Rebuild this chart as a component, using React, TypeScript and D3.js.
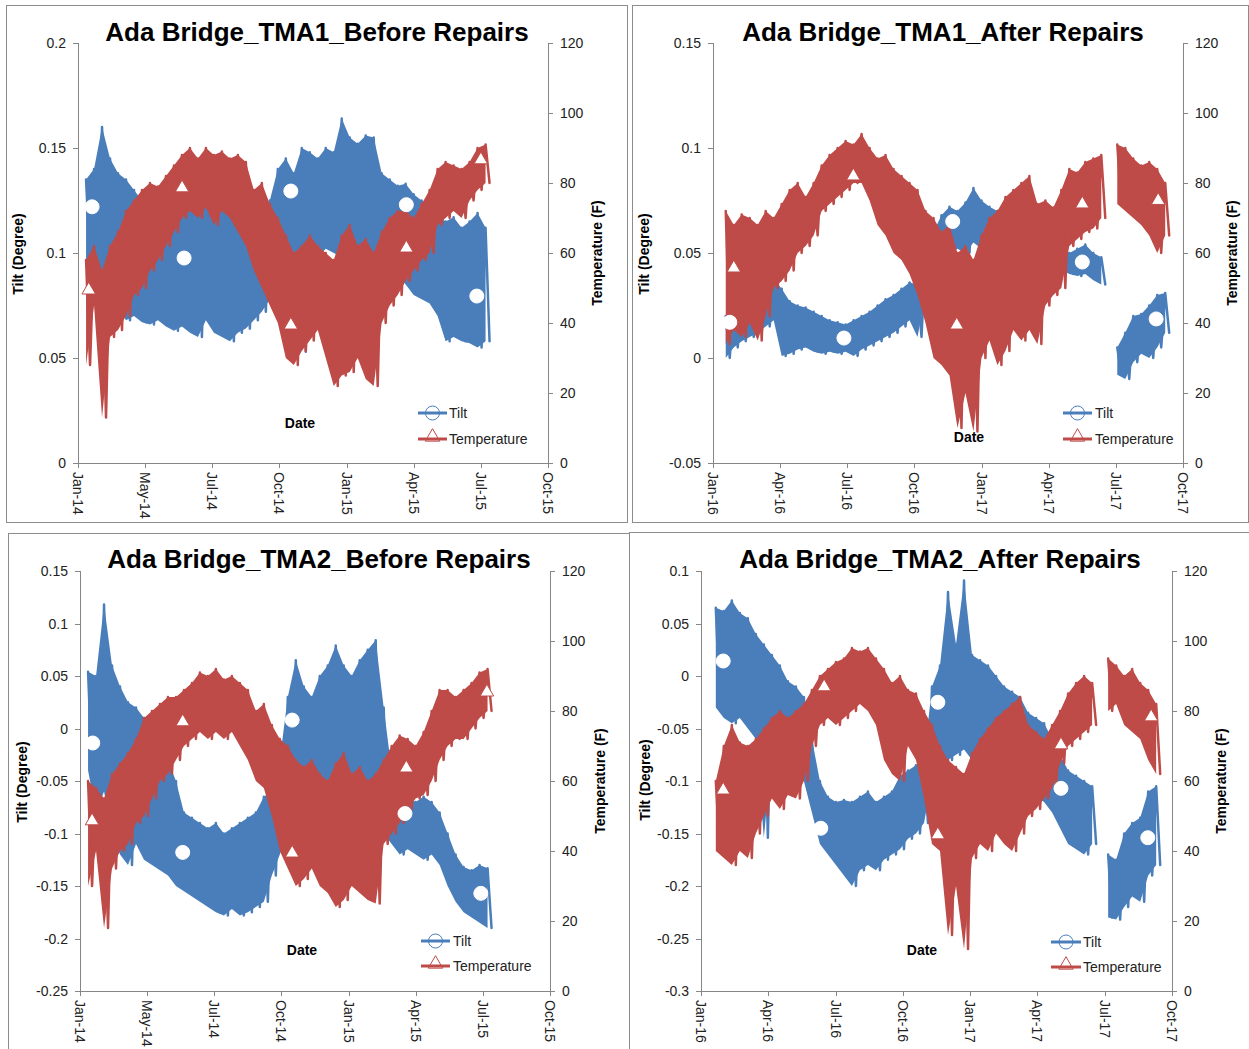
import React from 'react';
import * as d3 from 'd3';

// ---------- tick labels ----------
const xLabels2014 = ['Jan-14', 'May-14', 'Jul-14', 'Oct-14', 'Jan-15', 'Apr-15', 'Jul-15', 'Oct-15'];
const xLabels2016 = ['Jan-16', 'Apr-16', 'Jul-16', 'Oct-16', 'Jan-17', 'Apr-17', 'Jul-17', 'Oct-17'];
const tempTicks = [0, 20, 40, 60, 80, 100, 120];
const tma1BeforeTiltTicks = [0, 0.05, 0.1, 0.15, 0.2];
const tma1AfterTiltTicks = [-0.05, 0, 0.05, 0.1, 0.15];
const tma2BeforeTiltTicks = [-0.25, -0.2, -0.15, -0.1, -0.05, 0, 0.05, 0.1, 0.15];
const tma2AfterTiltTicks = [-0.3, -0.25, -0.2, -0.15, -0.1, -0.05, 0, 0.05, 0.1];

// ---------- series (x in quarter-index units 0..7, sampled every 0.119; high / low readings) ----------
const sampleStep = 0.119;

const tma1BeforeStart = 0.12;
const tma1BeforeTiltHi = [
  .135, .14, .16, .145, .138, .135, .13, .125, .12, .118,
  .122, .125, .12, .13, .128, .125, .13, .127, .122, .125,
  .12, .118, .12, .125, .14, .145, .138, .15, .148, .145,
  .15, .148, .164, .155, .152, .156, .155, .138, .135, .132,
  .133, .128, .125, .122, .118, .115, .117, .112, .115, .119,
  .112];
const tma1BeforeTiltLo = [
  .095, .1, .088, .08, .075, .068, .07, .067, .066, .068,
  .065, .063, .065, .062, .06, .068, .062, .06, .058, .062,
  .064, .068, .072, .078, .082, .095, .1, .053, .1, .098,
  .102, .1, .098, .1, .095, .1, .097, .095, .092, .09,
  .085, .08, .078, .076, .07, .058, .06, .058, .057, .055,
  .058];
const tma1BeforeTempHi = [
  58, 62, 55, 62, 66, 72, 75, 78, 80, 79,
  82, 85, 88, 90, 87, 90, 88, 89, 87, 88,
  86, 78, 80, 74, 70, 65, 60, 62, 65, 62,
  60, 58, 65, 68, 62, 64, 60, 66, 70, 72,
  72, 70, 74, 78, 84, 86, 85, 84, 86, 90,
  91];
const tma1BeforeTempLo = [
  28, 45, 13, 36, 38, 42, 48, 50, 55, 58,
  62, 66, 70, 72, 70, 73, 68, 72, 70, 66,
  62, 55, 50, 45, 40, 30, 28, 32, 35, 38,
  30, 22, 25, 26, 30, 24, 22, 40, 45, 48,
  52, 55, 58, 60, 68, 70, 72, 70, 75, 78,
  80];
const tma1BeforeTiltMarkT = [0.21, 1.58, 3.17, 4.89, 5.94];
const tma1BeforeTiltMarkV = [0.122, 0.0976, 0.1295, 0.123, 0.0795];
const tma1BeforeTempMarkT = [0.16, 1.55, 3.17, 4.89, 6.0];
const tma1BeforeTempMarkV = [49.4, 78.6, 39.4, 61.4, 86.6];

const tma1AfterStart = 0.19;
const tma1AfterTiltHi = [
  .02, .028, .03, .033, .035, .036, .038, .033, .027, .025,
  .024, .022, .02, .018, .017, .016, .018, .02, .022, .025,
  .028, .03, .033, .036, .035, .05, .06, .068, .072, .07,
  .074, .081, .075, .072, .07, .072, .07, .068, .066, .06,
  .055, .052, .053, .05, .052, .054, .05, .048, null, .005,
  .012, .02, .021, .025, .03, .031];
const tma1AfterTiltLo = [
  0, .005, .008, .01, .012, .015, .018, .001, .002, .004,
  .005, .003, .002, .003, .002, .003, .001, .004, .006, .008,
  .01, .012, .015, .018, .01, .03, .04, .045, .05, .052,
  .05, .055, .052, .05, .053, .05, .048, .05, .045, .04,
  .04, .04, .042, .04, .039, .04, .037, .035, null, -.008,
  -.01, -.002, .002, 0, .005, .012];
const tma1AfterTempHi = [
  72, 68, 71, 70, 68, 72, 70, 74, 78, 80,
  76, 80, 85, 88, 90, 92, 91, 94, 90, 87,
  88, 84, 82, 80, 78, 72, 70, 66, 68, 60,
  62, 58, 65, 70, 72, 76, 78, 80, 82, 74,
  75, 73, 78, 84, 83, 86, 87, 88, null, 91,
  90, 87, 85, 86, 84, 80];
const tma1AfterTempLo = [
  34, 38, 36, 40, 35, 42, 50, 52, 55, 60,
  62, 65, 72, 74, 76, 78, 80, 80, 75, 68,
  65, 60, 58, 54, 48, 40, 30, 28, 25, 10,
  20, 9, 30, 35, 28, 32, 38, 35, 38, 34,
  45, 48, 50, 62, 64, 66, 67, 70, null, 74,
  72, 70, 68, 65, 60, 65];
const tma1AfterTiltMarkT = [0.25, 1.95, 3.57, 5.5, 6.6];
const tma1AfterTiltMarkV = [0.017, 0.0095, 0.065, 0.0457, 0.0186];
const tma1AfterTempMarkT = [0.31, 2.09, 3.63, 5.5, 6.63];
const tma1AfterTempMarkV = [55.7, 82, 39.4, 74, 75];

const tma2BeforeStart = 0.12;
const tma2BeforeTiltHi = [
  .054, .05, .118, .06, .04, .025, .02, .01, -.005, -.02,
  -.03, -.05, -.08, -.085, -.09, -.095, -.09, -.1, -.095, -.09,
  -.085, -.08, -.065, -.06, -.03, .03, .065, .04, .03, .05,
  .06, .079, .06, .05, .065, .075, .084, .02, -.04, -.06,
  -.065, -.07, -.065, -.07, -.08, -.1, -.12, -.132, -.135, -.13,
  -.133];
const tma2BeforeTiltLo = [
  -.04, -.08, -.06, -.1, -.12, -.13, -.11, -.125, -.13, -.135,
  -.14, -.15, -.155, -.16, -.165, -.17, -.175, -.178, -.172, -.178,
  -.175, -.17, -.165, -.14, -.12, -.1, -.09, -.08, -.07, -.075,
  -.07, -.08, -.075, -.08, -.07, -.08, -.09, -.1, -.11, -.12,
  -.115, -.12, -.125, -.12, -.13, -.15, -.165, -.175, -.18, -.185,
  -.19];
const tma2BeforeTempHi = [
  60, 58, 55, 62, 65, 68, 72, 78, 80, 82,
  84, 84, 86, 88, 91, 90, 92, 89, 90, 88,
  86, 80, 82, 76, 72, 70, 66, 64, 66, 62,
  60, 65, 68, 62, 64, 60, 62, 66, 70, 73,
  72, 70, 74, 80, 86, 86, 84, 86, 88, 91,
  92];
const tma2BeforeTempLo = [
  30, 40, 18, 35, 40, 42, 48, 50, 55, 60,
  62, 66, 70, 72, 74, 72, 74, 72, 74, 70,
  66, 60, 58, 50, 40, 35, 30, 32, 35, 30,
  28, 24, 26, 30, 28, 26, 25, 42, 45, 48,
  52, 55, 56, 60, 66, 70, 72, 72, 75, 78,
  80];
const tma2BeforeTiltMarkT = [0.19, 1.53, 3.16, 4.84, 5.97];
const tma2BeforeTiltMarkV = [-0.0138, -0.118, 0.008, -0.081, -0.157];
const tma2BeforeTempMarkT = [0.18, 1.53, 3.16, 4.86, 6.06];
const tma2BeforeTempMarkV = [48.6, 76.9, 39.4, 63.7, 85.4];

const tma2AfterStart = 0.22;
const tma2AfterTiltHi = [
  .065, .062, .072, .06, .055, .04, .03, .02, .01, -.005,
  -.01, -.02, -.06, -.1, -.115, -.12, -.118, -.12, -.115, -.11,
  -.12, -.115, -.11, -.095, -.09, -.085, -.08, -.01, .01, .08,
  .03, .091, .02, .015, .01, 0, -.01, -.015, -.02, -.035,
  -.04, -.045, -.06, -.075, -.09, -.095, -.1, -.105, null, -.17,
  -.175, -.15, -.14, -.135, -.11, -.105];
const tma2AfterTiltLo = [
  -.03, -.04, -.045, -.04, -.05, -.06, -.154, -.075, -.08, -.085,
  -.095, -.1, -.13, -.16, -.17, -.18, -.19, -.2, -.185, -.18,
  -.185, -.175, -.17, -.165, -.155, -.15, -.14, -.1, -.09, -.08,
  -.075, -.07, -.08, -.085, -.09, -.1, -.095, -.1, -.105, -.11,
  -.115, -.12, -.13, -.145, -.16, -.165, -.17, -.16, null, -.23,
  -.232, -.22, -.21, -.215, -.19, -.18];
const tma2AfterTempHi = [
  60, 70, 76, 71, 70, 72, 75, 78, 80, 78,
  80, 82, 86, 90, 92, 94, 95, 98, 97, 98,
  95, 92, 88, 90, 86, 85, 80, 76, 70, 66,
  64, 62, 68, 72, 75, 78, 80, 82, 84, 76,
  74, 72, 76, 80, 85, 88, 90, 88, null, 95,
  93, 90, 92, 88, 86, 82];
const tma2AfterTempLo = [
  40, 38, 36, 40, 38, 45, 50, 55, 52, 56,
  55, 60, 70, 76, 78, 76, 78, 80, 82, 80,
  76, 66, 62, 60, 70, 66, 55, 42, 40, 16,
  30, 12, 38, 42, 40, 45, 42, 40, 45, 50,
  52, 55, 58, 65, 70, 72, 74, 76, null, 80,
  82, 76, 74, 72, 66, 62];
const tma2AfterTiltMarkT = [0.33, 1.78, 3.52, 5.35, 6.64];
const tma2AfterTiltMarkV = [0.0143, -0.145, -0.025, -0.107, -0.154];
const tma2AfterTempMarkT = [0.33, 1.83, 3.52, 5.35, 6.69];
const tma2AfterTempMarkV = [57.4, 86.9, 44.6, 70.3, 78.3];

// ---------- styles ----------
const BLUE = '#4a7ebb';
const RED = '#be4b48';
const AXIS = '#868686';
const FONT = "Arial, 'Liberation Sans', sans-serif";

type Num = number | null;
type Pt = [number, number] | null;
type Band = { t: number; hi: number; lo: number } | null;

function zigzag(hi: Num[], lo: Num[], t0: number, dt: number): Pt[] {
  const pts: Pt[] = [];
  hi.forEach((h, i) => {
    const l = lo[i];
    if (h === null || l === null) {
      pts.push(null);
      return;
    }
    const t = t0 + i * dt;
    pts.push([t, h]);
    pts.push([t + dt / 2, l]);
  });
  return pts;
}

function bands(hi: Num[], lo: Num[], t0: number, dt: number): Band[] {
  return hi.map((h, i) => {
    const l = lo[i];
    if (h === null || l === null) return null;
    return { t: t0 + i * dt, hi: h, lo: l };
  });
}

type PanelCfg = {
  frame: [number, number, number, number];
  left: number; right: number; top: number; bottom: number;
  title: string; titleX: number; titleY: number;
  tiltDomain: [number, number]; tiltTicks: number[];
  xLabels: string[];
  start: number;
  tiltHi: Num[]; tiltLo: Num[]; tempHi: Num[]; tempLo: Num[];
  tiltMarkT: number[]; tiltMarkV: number[]; tempMarkT: number[]; tempMarkV: number[];
  leftTitleX: number; leftTitleY: number; rightTitleX: number; rightTitleY: number;
  dateX: number; dateY: number;
  legX0: number; legX1: number; legTiltY: number; legTempY: number; legTextX: number;
};

function Panel(p: PanelCfg) {
  const x = d3.scaleLinear().domain([0, 7]).range([p.left, p.right]);
  const yL = d3.scaleLinear().domain(p.tiltDomain).range([p.bottom, p.top]);
  const yR = d3.scaleLinear().domain([0, 120]).range([p.bottom, p.top]);
  const mkLine = (y: d3.ScaleLinear<number, number>) => d3.line<Pt>()
    .defined((d) => d !== null)
    .x((d) => x((d as [number, number])[0]))
    .y((d) => y((d as [number, number])[1]));
  const mkArea = (y: d3.ScaleLinear<number, number>) => d3.area<Band>()
    .defined((d) => d !== null)
    .x((d) => x(d!.t))
    .y1((d) => y(d!.hi))
    .y0((d) => y(d!.lo));
  const tiltPath = mkLine(yL)(zigzag(p.tiltHi, p.tiltLo, p.start, sampleStep)) || '';
  const tempPath = mkLine(yR)(zigzag(p.tempHi, p.tempLo, p.start, sampleStep)) || '';
  const tiltArea = mkArea(yL)(bands(p.tiltHi, p.tiltLo, p.start, sampleStep)) || '';
  const tempArea = mkArea(yR)(bands(p.tempHi, p.tempLo, p.start, sampleStep)) || '';
  const tri = d3.symbol().type(d3.symbolTriangle).size(80)() || '';
  const triLeg = d3.symbol().type(d3.symbolTriangle).size(90)() || '';
  const xTicks = d3.range(8);
  const [fx0, fy0, fx1, fy1] = p.frame;
  const legMid = (p.legX0 + p.legX1) / 2;
  return (
    <g>
      <rect x={fx0 + 0.5} y={fy0 + 0.5} width={fx1 - fx0} height={fy1 - fy0} fill="#fff" stroke="#8c8c8c" strokeWidth={1} />
      <text x={p.titleX} y={p.titleY} textAnchor="middle" fontFamily={FONT} fontWeight="bold" fontSize={26} fill="#000">{p.title}</text>
      {/* axes */}
      <line x1={p.left + 0.5} x2={p.left + 0.5} y1={p.top} y2={p.bottom} stroke={AXIS} />
      <line x1={p.right + 0.5} x2={p.right + 0.5} y1={p.top} y2={p.bottom} stroke={AXIS} />
      <line x1={p.left} x2={p.right + 1} y1={p.bottom + 0.5} y2={p.bottom + 0.5} stroke={AXIS} />
      {p.tiltTicks.map((v) => (
        <g key={'l' + v}>
          <line x1={p.left - 5} x2={p.left} y1={Math.round(yL(v)) + 0.5} y2={Math.round(yL(v)) + 0.5} stroke={AXIS} />
          <text x={p.left - 12} y={yL(v)} textAnchor="end" dominantBaseline="central" fontFamily={FONT} fontSize={14} fill="#222">{String(v)}</text>
        </g>
      ))}
      {tempTicks.map((v) => (
        <g key={'r' + v}>
          <line x1={p.right} x2={p.right + 5} y1={Math.round(yR(v)) + 0.5} y2={Math.round(yR(v)) + 0.5} stroke={AXIS} />
          <text x={p.right + 12} y={yR(v)} textAnchor="start" dominantBaseline="central" fontFamily={FONT} fontSize={14} fill="#222">{String(v)}</text>
        </g>
      ))}
      {xTicks.map((i) => (
        <g key={'x' + i}>
          <line x1={Math.round(x(i)) + 0.5} x2={Math.round(x(i)) + 0.5} y1={p.bottom} y2={p.bottom + 5} stroke={AXIS} />
          <text transform={`translate(${x(i)},${p.bottom + 9}) rotate(90)`} textAnchor="start" dominantBaseline="central" fontFamily={FONT} fontSize={14} fill="#222">{p.xLabels[i]}</text>
        </g>
      ))}
      {/* series */}
      <path d={tiltArea} fill={BLUE} stroke="none" />
      <path d={tiltPath} fill="none" stroke={BLUE} strokeWidth={2.5} strokeLinejoin="round" strokeLinecap="round" />
      <path d={tempArea} fill={RED} stroke="none" />
      <path d={tempPath} fill="none" stroke={RED} strokeWidth={2.5} strokeLinejoin="round" strokeLinecap="round" />
      {p.tiltMarkT.map((t, i) => (
        <circle key={'cm' + i} cx={x(t)} cy={yL(p.tiltMarkV[i])} r={7} fill="#fff" stroke="#fff" strokeWidth={1} />
      ))}
      {p.tempMarkT.map((t, i) => (
        <path key={'tm' + i} d={tri} transform={`translate(${x(t)},${yR(p.tempMarkV[i])})`} fill="#fff" stroke={RED} strokeWidth={1} />
      ))}
      {/* axis titles */}
      <text transform={`translate(${p.leftTitleX},${p.leftTitleY}) rotate(-90)`} textAnchor="middle" dominantBaseline="central" fontFamily={FONT} fontWeight="bold" fontSize={14} fill="#000">Tilt (Degree)</text>
      <text transform={`translate(${p.rightTitleX},${p.rightTitleY}) rotate(-90)`} textAnchor="middle" dominantBaseline="central" fontFamily={FONT} fontWeight="bold" fontSize={14} fill="#000">Temperature (F)</text>
      <text x={p.dateX} y={p.dateY} textAnchor="middle" fontFamily={FONT} fontWeight="bold" fontSize={14} fill="#000">Date</text>
      {/* legend */}
      <line x1={p.legX0} x2={p.legX1} y1={p.legTiltY} y2={p.legTiltY} stroke={BLUE} strokeWidth={3} />
      <circle cx={legMid} cy={p.legTiltY} r={7} fill="none" stroke={BLUE} strokeWidth={1} />
      <text x={p.legTextX} y={p.legTiltY + 5} fontFamily={FONT} fontSize={14} fill="#222">Tilt</text>
      <line x1={p.legX0} x2={p.legX1} y1={p.legTempY} y2={p.legTempY} stroke={RED} strokeWidth={3} />
      <path d={triLeg} transform={`translate(${legMid},${p.legTempY - 2})`} fill="none" stroke={RED} strokeWidth={1} />
      <text x={p.legTextX} y={p.legTempY + 5} fontFamily={FONT} fontSize={14} fill="#222">Temperature</text>
    </g>
  );
}

export default function App() {
  const panels: PanelCfg[] = [
    {
      frame: [6, 5, 627, 522], left: 78, right: 548, top: 43, bottom: 463,
      title: 'Ada Bridge_TMA1_Before Repairs', titleX: 317, titleY: 41,
      tiltDomain: [0, 0.2], tiltTicks: tma1BeforeTiltTicks, xLabels: xLabels2014,
      start: tma1BeforeStart,
      tiltHi: tma1BeforeTiltHi, tiltLo: tma1BeforeTiltLo, tempHi: tma1BeforeTempHi, tempLo: tma1BeforeTempLo,
      tiltMarkT: tma1BeforeTiltMarkT, tiltMarkV: tma1BeforeTiltMarkV, tempMarkT: tma1BeforeTempMarkT, tempMarkV: tma1BeforeTempMarkV,
      leftTitleX: 18, leftTitleY: 254, rightTitleX: 597, rightTitleY: 253,
      dateX: 300, dateY: 428,
      legX0: 418, legX1: 447, legTiltY: 413, legTempY: 439, legTextX: 449,
    },
    {
      frame: [632, 5, 1248, 522], left: 713, right: 1183, top: 43, bottom: 463,
      title: 'Ada Bridge_TMA1_After Repairs', titleX: 943, titleY: 41,
      tiltDomain: [-0.05, 0.15], tiltTicks: tma1AfterTiltTicks, xLabels: xLabels2016,
      start: tma1AfterStart,
      tiltHi: tma1AfterTiltHi, tiltLo: tma1AfterTiltLo, tempHi: tma1AfterTempHi, tempLo: tma1AfterTempLo,
      tiltMarkT: tma1AfterTiltMarkT, tiltMarkV: tma1AfterTiltMarkV, tempMarkT: tma1AfterTempMarkT, tempMarkV: tma1AfterTempMarkV,
      leftTitleX: 644, leftTitleY: 254, rightTitleX: 1232, rightTitleY: 253,
      dateX: 969, dateY: 442,
      legX0: 1063, legX1: 1092, legTiltY: 413, legTempY: 439, legTextX: 1095,
    },
    {
      frame: [8, 533, 629, 1052], left: 80, right: 550, top: 571, bottom: 991,
      title: 'Ada Bridge_TMA2_Before Repairs', titleX: 319, titleY: 568,
      tiltDomain: [-0.25, 0.15], tiltTicks: tma2BeforeTiltTicks, xLabels: xLabels2014,
      start: tma2BeforeStart,
      tiltHi: tma2BeforeTiltHi, tiltLo: tma2BeforeTiltLo, tempHi: tma2BeforeTempHi, tempLo: tma2BeforeTempLo,
      tiltMarkT: tma2BeforeTiltMarkT, tiltMarkV: tma2BeforeTiltMarkV, tempMarkT: tma2BeforeTempMarkT, tempMarkV: tma2BeforeTempMarkV,
      leftTitleX: 22, leftTitleY: 782, rightTitleX: 600, rightTitleY: 781,
      dateX: 302, dateY: 955,
      legX0: 421, legX1: 450, legTiltY: 941, legTempY: 966, legTextX: 453,
    },
    {
      frame: [629, 532, 1252, 1052], left: 701, right: 1172, top: 571, bottom: 991,
      title: 'Ada Bridge_TMA2_After Repairs', titleX: 940, titleY: 568,
      tiltDomain: [-0.3, 0.1], tiltTicks: tma2AfterTiltTicks, xLabels: xLabels2016,
      start: tma2AfterStart,
      tiltHi: tma2AfterTiltHi, tiltLo: tma2AfterTiltLo, tempHi: tma2AfterTempHi, tempLo: tma2AfterTempLo,
      tiltMarkT: tma2AfterTiltMarkT, tiltMarkV: tma2AfterTiltMarkV, tempMarkT: tma2AfterTempMarkT, tempMarkV: tma2AfterTempMarkV,
      leftTitleX: 645, leftTitleY: 780, rightTitleX: 1221, rightTitleY: 781,
      dateX: 922, dateY: 955,
      legX0: 1051, legX1: 1081, legTiltY: 942, legTempY: 967, legTextX: 1083,
    },
  ];
  return (
    <svg width={1249} height={1049} style={{ position: 'absolute', left: 0, top: 0, display: 'block', background: '#fff' }}>
      <rect x={0} y={0} width={1249} height={1049} fill="#fff" />
      {panels.map((p, i) => <Panel key={i} {...p} />)}
    </svg>
  );
}
